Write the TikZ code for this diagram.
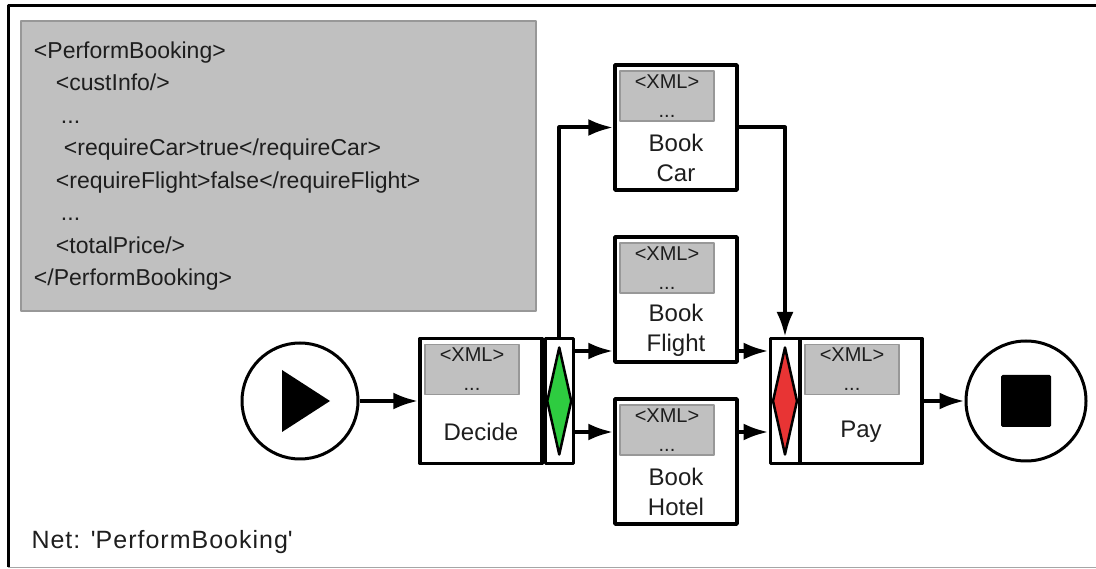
\documentclass[tikz,border=0pt]{standalone}
\usepackage{fontspec}
\setmainfont{Liberation Sans}
\newfontfamily\netschrift[LetterSpace=4]{Liberation Sans}
\usetikzlibrary{arrows.meta, shapes.geometric, positioning}

\begin{document}
\begin{tikzpicture}[x=1pt, y=-1pt, line join=round,
    aufgabe/.style={draw, fill=white, line width=3.5pt, minimum width=122pt,
      minimum height=125pt, inner sep=0pt},
    teiler/.style={draw, fill=white, line width=3pt, minimum height=125pt, inner sep=0pt},
    weiche/.style={diamond, draw, line width=2.5pt, minimum width=25pt,
      minimum height=108pt, inner sep=0pt},
    datenfeld/.style={fill=feldgrau, draw=randgrau, line width=1.5pt, minimum width=94pt,
      minimum height=50pt, inner sep=0pt, align=center, text=schrift,
      font=\fontsize{20}{29}\selectfont},
    beschriftung/.style={inner sep=0pt, align=center, text=schrift,
      font=\fontsize{24}{30}\selectfont},
    kante/.style={line width=4pt, -{Latex[length=25pt, width=17pt]}},
    ereignis/.style={circle, draw, fill=white, line width=3pt, inner sep=0pt},
  ]
  \definecolor{feldgrau}{RGB}{192,192,192}
  \definecolor{randgrau}{RGB}{152,152,152}
  \definecolor{weichegruen}{RGB}{46,204,64}
  \definecolor{weicherot}{RGB}{232,52,52}
  \definecolor{schrift}{RGB}{30,30,30}
  \useasboundingbox (0,0) rectangle (1096,569);

  % Aufgabe mit XML-Feld oben und Text darunter:
  % \aufgabe{name}{x}{y}{Beschriftung}
  \newcommand{\aufgabe}[4]{%
    \node[aufgabe] (#1) at (#2,#3) {};
    \node[datenfeld, anchor=north west] (#1-xml) at ([shift={(6,7)}]#1.north west)
      {<XML>\\...};
    \node[beschriftung] (#1-text) at ([yshift=-95pt]#1.north) {#4};}

  % ---------------- Rahmen ------------------------------------------
  \draw[line width=3pt] (8,567) -- (8,6) -- (1096,6);
  \draw[black!35, line width=1pt] (8,567.5) -- (1096,567.5);

  % ---------------- Nachricht ---------------------------------------
  \node[anchor=north west, fill=feldgrau, draw=randgrau, line width=2pt,
    minimum height=290pt, text width=489pt, inner xsep=13pt, align=left,
    text=schrift, font=\fontsize{23}{32.5}\selectfont] (nachricht) at (20,20)
    {<PerformBooking>\\
     \hspace*{22pt}<custInfo/>\\
     \hspace*{27pt}...\\
     \hspace*{30pt}<requireCar>true</requireCar>\\
     \hspace*{22pt}<requireFlight>false</requireFlight>\\
     \hspace*{27pt}...\\
     \hspace*{22pt}<totalPrice/>\\
     </PerformBooking>};

  % ---------------- Netz --------------------------------------------
  \node[ereignis, minimum size=116pt] (start) at (300,401) {};
  \fill (start.center) ++(-18,-31) -- ++(48,31) -- ++(-48,31) -- cycle;

  \aufgabe{decide}{481}{401}{Decide}
  \node[teiler, minimum width=28pt, right=0pt of decide] (decide-split) {};
  \node[weiche, fill=weichegruen] (decide-weiche) at (decide-split) {};

  \aufgabe{bookcar}{676}{127.5}{Book\\Car}
  \aufgabe{bookflight}{676}{299.5}{Book\\Flight}
  \aufgabe{bookhotel}{676}{461.5}{Book\\Hotel}

  \node[teiler, minimum width=30pt] (pay-split) at (785,401) {};
  \node[weiche, fill=weicherot] (pay-weiche) at (pay-split) {};
  \aufgabe{pay}{861}{401}{Pay}

  \node[ereignis, minimum size=120pt] (ende) at (1026,401) {};
  \node[fill, minimum width=50pt, minimum height=52pt, rounded corners=1.5pt]
    (ende-quadrat) at (ende) {};

  % Kanten
  \coordinate (flug-ein) at ([yshift=-14pt]decide-split.north east);
  \coordinate (hotel-ein) at ([yshift=-95pt]decide-split.north east);
  \coordinate (pay-ein1) at ([yshift=-14pt]pay-split.north west);
  \coordinate (pay-ein2) at ([yshift=-95pt]pay-split.north west);
  \draw[kante] (start) -- (decide);
  \draw[kante] (decide-split.north) |- (bookcar);
  \draw[kante] (flug-ein) -- (flug-ein -| bookflight.west);
  \draw[kante] (hotel-ein) -- (hotel-ein -| bookhotel.west);
  \draw[kante] (bookcar.east) -| (pay-split.north);
  \draw[kante] (bookflight.east |- pay-ein1) -- (pay-ein1);
  \draw[kante] (bookhotel.east |- pay-ein2) -- (pay-ein2);
  \draw[kante] (pay) -- (ende);

  \node[anchor=base west, text=schrift, font=\netschrift\fontsize{25}{28}\selectfont]
    (netz) at (28,548) {Net: \textquotesingle PerformBooking\textquotesingle};
\end{tikzpicture}
\end{document}
